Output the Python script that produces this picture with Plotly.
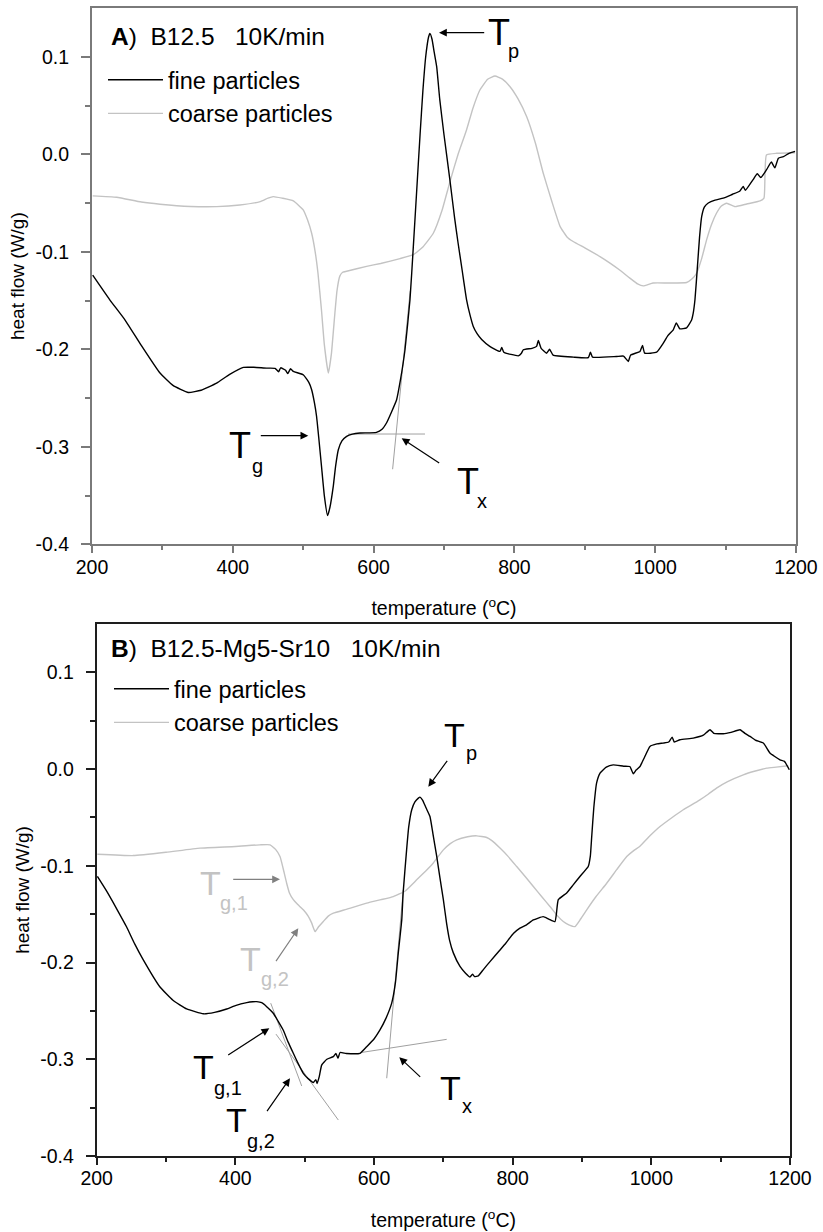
import plotly.graph_objects as go

W, H = 823, 1232
FONT = "Liberation Sans, Arial, sans-serif"

# ---------------- Panel A : B12.5, 10 K/min ----------------
a_fine_T = [201, 225, 247, 270, 296.6, 315, 336.8, 355, 377, 395, 415, 430, 448, 460, 465, 468, 475, 478, 482,
            486, 500, 508, 512, 516, 519, 522, 526, 530, 534.6, 538, 542.7, 546, 549.9, 555, 561.7, 570, 580.7,
            604, 612, 618.3, 625, 632.7, 638, 644.6, 651.7, 656.4, 661, 666, 670, 674, 678, 680, 683, 686,
            689.6, 694, 700, 708.5, 715, 720, 726, 732, 737, 741.6, 747, 753.5, 765, 779.5, 782, 785, 805.5,
            810, 812.7, 825, 831.5, 834, 838, 845.7, 850, 855, 883.5, 905, 908, 911, 945, 955, 961.8, 965,
            978.4, 982, 985, 1002, 1011.5, 1018, 1025.7, 1030, 1035, 1044.6, 1051.7, 1054, 1056.5, 1060,
            1063, 1066, 1070, 1075.4, 1085, 1096.7, 1110, 1120, 1125, 1128, 1139, 1145, 1150, 1158, 1165,
            1170, 1175, 1182, 1190, 1198.6]
a_fine_HF = [-0.124, -0.149, -0.170, -0.196, -0.2244, -0.237, -0.2443, -0.242, -0.2347, -0.226, -0.2186, -0.2185,
             -0.2193, -0.2195, -0.223, -0.219, -0.2215, -0.225, -0.220, -0.2227, -0.2261, -0.234, -0.2415,
             -0.255, -0.2689, -0.290, -0.320, -0.350, -0.3706, -0.362, -0.3406, -0.320, -0.303, -0.294,
             -0.2893, -0.2870, -0.2859, -0.2852, -0.282, -0.2756, -0.265, -0.2517, -0.232, -0.2005, -0.149,
             -0.095, -0.040, 0.020, 0.065, 0.100, 0.120, 0.124, 0.118, 0.105, 0.0898, 0.056, 0.020, -0.027,
             -0.065, -0.091, -0.120, -0.149, -0.165, -0.1766, -0.184, -0.190, -0.197, -0.2022, -0.198,
             -0.203, -0.2067, -0.2040, -0.2005, -0.199, -0.197, -0.191, -0.199, -0.204, -0.200, -0.206,
             -0.208, -0.2085, -0.203, -0.208, -0.2074, -0.207, -0.2125, -0.206, -0.2022, -0.196, -0.204,
             -0.203, -0.1937, -0.186, -0.180, -0.173, -0.179, -0.178, -0.170, -0.163, -0.149, -0.115, -0.085,
             -0.064, -0.054, -0.050, -0.047, -0.045, -0.041, -0.038, -0.033, -0.037, -0.026, -0.020, -0.024,
             -0.016, -0.008, -0.014, -0.004, -0.0025, 0.001, 0.003]

a_coarse_T = [201, 235, 270, 296.6, 340, 377, 410, 439, 450, 457.5, 470, 486, 500, 506, 512, 517, 521, 526, 530,
              535.7, 540, 545, 548, 552, 556, 561.7, 590, 610, 637.5, 656.4, 670, 684.8, 697, 708.5, 720, 732,
              741, 751, 762, 772.4, 783, 793.8, 805, 817.5, 830, 841, 853, 865, 875, 883.5, 900, 921.6, 935.8,
              950, 964, 975, 983, 997, 1020, 1044.6, 1052, 1058.8, 1066, 1073, 1080, 1087, 1094, 1101.5,
              1113.4, 1130, 1149, 1154.5, 1156, 1158, 1172.4, 1198.6]
a_coarse_HF = [-0.0427, -0.0441, -0.049, -0.0512, -0.0535, -0.0537, -0.052, -0.0486, -0.045, -0.0434, -0.045,
               -0.0478, -0.057, -0.067, -0.081, -0.100, -0.122, -0.160, -0.195, -0.2244, -0.205, -0.163, -0.140,
               -0.125, -0.121, -0.120, -0.115, -0.112, -0.107, -0.103, -0.095, -0.081, -0.058, -0.028, 0.000,
               0.0249, 0.047, 0.0659, 0.077, 0.0802, 0.077, 0.0693, 0.057, 0.0385, 0.011, -0.0195, -0.048,
               -0.0742, -0.085, -0.0895, -0.096, -0.105, -0.1117, -0.119, -0.127, -0.133, -0.135, -0.132,
               -0.132, -0.1315, -0.128, -0.122, -0.107, -0.0878, -0.072, -0.0605, -0.053, -0.0502, -0.0537,
               -0.051, -0.0478, -0.045, -0.020, -0.0007, 0.001, 0.0016]

a_tan_base_T = [564, 673]
a_tan_base_HF = [-0.2869, -0.2869]
a_tan_rise_T = [627, 652]
a_tan_rise_HF = [-0.323, -0.14]

# ---------------- Panel B : B12.5-Mg5-Sr10, 10 K/min ----------------
b_fine_T = [201, 215, 230, 243, 255, 267, 291, 310, 329.8, 353.8, 370, 387.5, 400, 416.4, 425, 430.8, 438, 445.2,
            454.7, 462, 469, 476, 483.6, 491, 498, 505, 512.4, 516, 518, 521, 524.5, 532, 541.3, 545, 548, 551,
            560, 579.8, 589.4, 600, 608.6, 617, 625.5, 631, 635, 640, 642, 647, 650, 654.4, 659, 664, 666.3,
            670, 675, 680.7, 685, 690.4, 695, 700, 704.8, 709, 714.4, 724, 732, 738.4, 742, 745, 750.4, 758,
            767.3, 781.7, 790, 801, 810.5, 820, 829.8, 844, 852, 861, 863, 865.8, 877.9, 887, 897, 909, 912,
            914, 917, 921, 926, 935, 945, 960, 969, 974, 978, 983.6, 990, 998, 1008, 1017, 1025, 1030, 1033,
            1041.3, 1060.5, 1075, 1084.6, 1090, 1103.8, 1115, 1128, 1135, 1142.3, 1150, 1161.5, 1171, 1178,
            1185.6, 1192, 1199]
b_fine_HF = [-0.111, -0.127, -0.146, -0.163, -0.181, -0.197, -0.225, -0.239, -0.248, -0.253, -0.2515, -0.248,
             -0.2445, -0.2414, -0.2405, -0.2404, -0.2415, -0.2456, -0.2524, -0.261, -0.2697, -0.282, -0.2938,
             -0.305, -0.3145, -0.320, -0.324, -0.321, -0.325, -0.318, -0.306, -0.300, -0.2973, -0.294, -0.299,
             -0.293, -0.294, -0.2938, -0.287, -0.279, -0.2697, -0.258, -0.242, -0.220, -0.190, -0.156, -0.128,
             -0.0835, -0.060, -0.042, -0.034, -0.030, -0.029, -0.032, -0.040, -0.049, -0.067, -0.090, -0.112,
             -0.135, -0.160, -0.177, -0.190, -0.204, -0.211, -0.215, -0.212, -0.2145, -0.2138, -0.207, -0.199,
             -0.187, -0.180, -0.170, -0.1645, -0.161, -0.156, -0.1525, -0.155, -0.1577, -0.150, -0.135, -0.128,
             -0.120, -0.111, -0.1007, -0.090, -0.0697, -0.040, -0.0145, -0.0041, 0.002, 0.0044, 0.003, 0.0027,
             -0.0049, -0.001, 0.0027, 0.012, 0.0234, 0.026, 0.0269, 0.028, 0.033, 0.028, 0.0303, 0.032, 0.035,
             0.0407, 0.037, 0.0365, 0.038, 0.0407, 0.037, 0.0338, 0.030, 0.0269, 0.0166, 0.013, 0.0096, 0.008,
             -0.0007]

b_coarse_T = [201, 252.8, 300, 349, 400, 435.5, 450, 458, 464.4, 469, 474, 478, 483.6, 490, 498, 505, 510, 515,
              520, 526.8, 534, 541.3, 560, 589.4, 610, 627.8, 645, 661.5, 675, 685.5, 700, 710, 719.3, 735, 748,
              762.5, 770, 781.7, 793, 805.8, 818, 829.8, 842, 853.8, 865, 873, 881, 889.9, 898, 906.8, 920,
              935.6, 950, 964.5, 975, 983.2, 998, 1012.5, 1030, 1046, 1058, 1070, 1082, 1094, 1110, 1132.6,
              1150, 1166.4, 1180, 1197.6]
b_coarse_HF = [-0.088, -0.0894, -0.0860, -0.0817, -0.0800, -0.0783, -0.0783, -0.083, -0.0904, -0.103, -0.118,
               -0.128, -0.135, -0.140, -0.1455, -0.152, -0.159, -0.168, -0.163, -0.1576, -0.152, -0.149, -0.145,
               -0.1386, -0.135, -0.1318, -0.126, -0.1145, -0.105, -0.097, -0.0835, -0.077, -0.0731, -0.070,
               -0.069, -0.0707, -0.074, -0.0817, -0.090, -0.1007, -0.111, -0.1214, -0.132, -0.142, -0.152,
               -0.1576, -0.161, -0.1628, -0.155, -0.1455, -0.132, -0.118, -0.104, -0.0904, -0.084, -0.080,
               -0.069, -0.0594, -0.050, -0.042, -0.037, -0.0318, -0.026, -0.0197, -0.013, -0.0059, -0.002,
               0.001, 0.002, 0.0034]

b_tan1_T = [451, 495.7]
b_tan1_HF = [-0.242, -0.3276]
b_tan2_T = [458.6, 548.5]
b_tan2_HF = [-0.274, -0.3628]
b_tan3_T = [579.8, 704.8]
b_tan3_HF = [-0.2932, -0.2794]
b_tan4_T = [618.3, 642.2]
b_tan4_HF = [-0.3196, -0.125]

# ---------------- axis ticks ----------------
x_tickvals = [200, 400, 600, 800, 1000, 1200]
x_ticktext = ["200", "400", "600", "800", "1000", "1200"]
x_minor = [300, 500, 700, 900, 1100]
y_tickvals = [-0.4, -0.3, -0.2, -0.1, 0.0, 0.1]
y_ticktext = ["-0.4", "-0.3", "-0.2", "-0.1", "0.0", "0.1"]
y_minor = [-0.35, -0.25, -0.15, -0.05, 0.05]

BLACK = "#000000"
GRAY = "#c3c3c3"
TAN = "#a0a0a0"

fig = go.Figure()


def line(x, y, color, name=None, xa="x", ya="y", legend="legend", width=1.4, show=False, smooth=True):
    ln = dict(color=color, width=width)
    if smooth:
        ln.update(shape="spline", smoothing=0.4)
    fig.add_trace(go.Scatter(x=x, y=y, mode="lines", line=ln,
                             name=name, showlegend=show, legend=legend, xaxis=xa, yaxis=ya,
                             hoverinfo="skip"))


line(a_tan_base_T, a_tan_base_HF, TAN, width=1, smooth=False)
line(a_tan_rise_T, a_tan_rise_HF, TAN, width=1, smooth=False)
line(a_coarse_T, a_coarse_HF, GRAY, "coarse particles", show=True)
line(a_fine_T, a_fine_HF, BLACK, "fine particles", show=True)

for tx, ty in [(b_tan1_T, b_tan1_HF), (b_tan2_T, b_tan2_HF), (b_tan3_T, b_tan3_HF), (b_tan4_T, b_tan4_HF)]:
    line(tx, ty, TAN, xa="x2", ya="y2", width=1, smooth=False)
line(b_coarse_T, b_coarse_HF, GRAY, "coarse particles", xa="x2", ya="y2", legend="legend2", show=True)
line(b_fine_T, b_fine_HF, BLACK, "fine particles", xa="x2", ya="y2", legend="legend2", show=True)


def xax(domain, anchor, color):
    return dict(domain=domain, anchor=anchor, range=[200, 1200], tickmode="array", automargin=False,
                tickvals=x_tickvals, ticktext=x_ticktext, ticks="outside", ticklen=7, tickwidth=1.6,
                tickcolor=color, linecolor=color, linewidth=2, mirror=True, showgrid=False, zeroline=False,
                ticklabelstandoff=-3,
                tickfont=dict(family=FONT, size=19.5, color="#000"),
                minor=dict(tickmode="array", tickvals=x_minor, ticks="outside", ticklen=4, tickwidth=1.6,
                           tickcolor=color, showgrid=False),
                title=dict(text="temperature (<sup>o</sup>C)", font=dict(family=FONT, size=19.5, color="#000"),
                           standoff=25))


def yax(domain, anchor, color):
    return dict(domain=domain, anchor=anchor, range=[-0.4, 0.15], tickmode="array", automargin=False,
                tickvals=y_tickvals, ticktext=y_ticktext, ticks="outside", ticklen=9, tickwidth=1.6,
                tickcolor=color, linecolor=color, linewidth=2, mirror=True, showgrid=False, zeroline=False,
                ticklabelstandoff=8,
                tickfont=dict(family=FONT, size=19.5, color="#000"),
                minor=dict(tickmode="array", tickvals=y_minor, ticks="outside", ticklen=5, tickwidth=1.6,
                           tickcolor=color, showgrid=False),
                title=dict(text="heat flow (W/g)", font=dict(family=FONT, size=19, color="#000"),
                           standoff=6))


AX_A = "#7a7a7a"
AX_B = "#1e1e1e"

fig.update_layout(
    template="none",
    width=W, height=H, margin=dict(l=0, r=0, t=0, b=0, autoexpand=False),
    paper_bgcolor="white", plot_bgcolor="white",
    font=dict(family=FONT, color="#000"),
    xaxis=xax([92 / W, 796 / W], "y", AX_A),
    yaxis=yax([1 - 544.3 / H, 1 - 8 / H], "x", AX_A),
    xaxis2=xax([96.7 / W, 790 / W], "y2", AX_B),
    yaxis2=yax([1 - 1156 / H, 1 - 624 / H], "x2", AX_B),
    legend=dict(x=103 / W, y=1 - 58 / H, xanchor="left", yanchor="top", bgcolor="rgba(0,0,0,0)",
                font=dict(family=FONT, size=23.5, color="#000"), traceorder="reversed", itemwidth=55),
    legend2=dict(x=109 / W, y=1 - 667 / H, xanchor="left", yanchor="top", bgcolor="rgba(0,0,0,0)",
                 font=dict(family=FONT, size=23.5, color="#000"), traceorder="reversed", itemwidth=55),
)

ann = []


def txt(xp, yp, s, size, color="#000", anchor="center"):
    ann.append(dict(xref="paper", yref="paper", x=xp / W, y=1 - yp / H, text=s, showarrow=False,
                    xanchor=anchor, yanchor="middle", font=dict(family=FONT, size=size, color=color)))


def arrow(hx, hy, tx, ty, color="#000"):
    ann.append(dict(xref="paper", yref="paper", x=hx / W, y=1 - hy / H, ax=tx - hx, ay=ty - hy,
                    text="", showarrow=True, arrowhead=2, arrowsize=1.3, arrowwidth=1.2,
                    arrowcolor=color, standoff=0))


NB = "\u00a0"
txt(109, 36, "<b>A</b>)" + NB * 2 + "B12.5" + NB * 3 + "10K/min", 24.5, anchor="left")
txt(109, 648, "<b>B</b>)" + NB * 2 + "B12.5-Mg5-Sr10" + NB * 3 + "10K/min", 24.5, anchor="left")

# Panel A labels
txt(498.5, 32, "T", 36)
txt(513, 51, "p", 20)
arrow(439, 32.7, 485.7, 32.7)
txt(240, 445, "T", 36)
txt(257, 466, "g", 20)
arrow(308.3, 435.7, 259.3, 435.7)
txt(468.3, 482, "T", 36)
txt(482, 501, "x", 20)
arrow(401.7, 438.3, 440.7, 464)

# Panel B labels
txt(454, 735, "T", 34)
txt(471.7, 753, "p", 20)
arrow(428.3, 786.7, 448.3, 759.3)
txt(210, 882.5, "T", 34, "#c3c3c3")
txt(234, 903, "g,1", 20, "#c3c3c3")
arrow(280, 879.3, 231.7, 879.3, "#808080")
txt(250, 959, "T", 34, "#c3c3c3")
txt(275, 979, "g,2", 20, "#c3c3c3")
arrow(298.3, 928.3, 275, 962.7, "#808080")
txt(203, 1067, "T", 34)
txt(228, 1088, "g,1", 20)
arrow(269.3, 1028.3, 226.7, 1056)
txt(236, 1120, "T", 34)
txt(261, 1141, "g,2", 20)
arrow(290, 1078.3, 266, 1112.7)
txt(450, 1087.5, "T", 34)
txt(466.7, 1106, "x", 20)
arrow(399.3, 1057.3, 421.7, 1078.3)

fig.update_layout(annotations=ann)
fig.write_html("out.html")
